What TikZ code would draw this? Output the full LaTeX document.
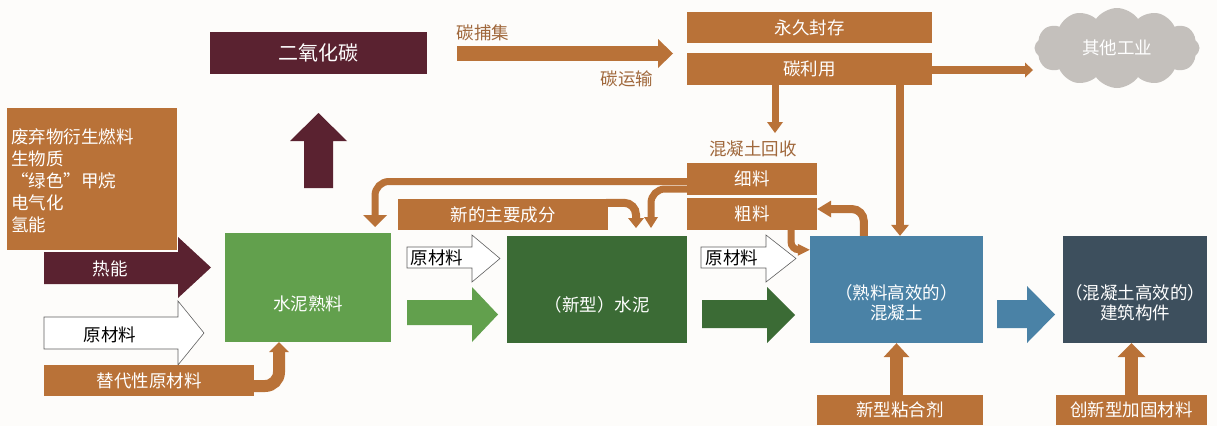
\documentclass[tikz,border=0pt]{standalone}
\usepackage{fontspec}
\newfontfamily\cjkf{Noto Sans CJK SC}
\usetikzlibrary{arrows.meta,shapes.symbols,calc}
\definecolor{orng}{RGB}{185,114,56}
\definecolor{maroonc}{RGB}{90,34,48}
\definecolor{lgreen}{RGB}{98,160,77}
\definecolor{dgreen}{RGB}{59,107,53}
\definecolor{cblue}{RGB}{74,130,166}
\definecolor{slate}{RGB}{61,79,93}
\definecolor{cloudgray}{RGB}{196,192,188}
\definecolor{lbl}{RGB}{160,104,60}
\definecolor{bgc}{RGB}{253,252,250}
\newcommand\blkright[8]{\path[#1] (#2,#4) -- (#3,#4) -- (#3,#6) -- (#8,{(#6+#7)/2}) -- (#3,#7) -- (#3,#5) -- (#2,#5) -- cycle;}
\newcommand\blkup[8]{\path[#1] (#2,#4) -- (#2,#5) -- (#6,#5) -- ({(#6+#7)/2},#8) -- (#7,#5) -- (#3,#5) -- (#3,#4) -- cycle;}
\begin{document}
\begin{tikzpicture}[x=1pt,y=-1pt,
  cj/.style={font=\cjkf\fontsize{17.5}{21}\selectfont, inner sep=0pt},
  wt/.style={cj, text=white},
  bx/.style n args={3}{wt, fill=#1, minimum width=#2, minimum height=#3},
  ob/.style={draw=orng, line width=#1, line cap=butt},
  atip/.style n args={2}{arrows={-{Triangle[width=#1,length=#2,line width=0pt]}}},
  wa/.style={fill=white, draw=gray!75!black, line width=0.6pt}]
\useasboundingbox (0,0) rectangle (1217,426);
\fill[bgc] (0,0) rectangle (1217,426);

% block arrows (shapes)
\blkright{fill=maroonc}{44}{178}{252}{284}{237}{298}{211}
\blkright{wa}{44}{178}{317}{349}{301}{365}{204}
\blkright{wa}{407}{472}{247}{268}{235}{282}{500}
\blkright{fill=lgreen}{407}{472}{300}{325}{287}{342}{498}
\blkright{wa}{701}{766}{247}{268}{235}{282}{796}
\blkright{fill=dgreen}{702}{767}{300}{328}{287}{343}{795}
\blkright{fill=cblue}{997}{1027}{300}{328}{286}{343}{1055}
\blkup{fill=maroonc}{304}{333}{188}{141}{290}{347}{113}

% nodes
\node[bx={maroonc}{217pt}{42pt}, font=\cjkf\fontsize{20}{24}\selectfont] (co2) at (318.5,53) {二氧化碳};
\node[bx={orng}{170pt}{142pt}] (fuel) at (92,179) {};
\node[wt, align=left, anchor=north west, font=\cjkf\fontsize{17.5}{22}\selectfont] (fuelT) at (11,128) {废弃物衍生燃料\\生物质\\“绿色”甲烷\\电气化\\氢能};
\node[bx={orng}{245pt}{31pt}] (perm) at (809.5,27.5) {永久封存};
\node[bx={orng}{245pt}{32pt}] (util) at (809.5,69) {碳利用};
\node[bx={orng}{210pt}{31pt}] (alt) at (149,380.5) {替代性原材料};
\node[bx={lgreen}{166pt}{109pt}] (clinker) at (308,287.5) {};
\node[wt] (clinkerT) at (308,304) {水泥熟料};
\node[bx={orng}{210pt}{31pt}] (newmain) at (503,214.5) {新的主要成分};
\node[bx={orng}{130pt}{32pt}] (fine) at (752,179) {细料};
\node[bx={orng}{130pt}{32pt}] (coarse) at (752,214) {粗料};
\node[bx={dgreen}{180pt}{107pt}] (cement) at (597,289.5) {};
\node[wt] (cementT) at (597,305) {（新型）水泥};
\node[bx={cblue}{173pt}{107pt}] (concrete) at (896.5,289.5) {};
\node[wt, align=center, font=\cjkf\fontsize{17.5}{20}\selectfont] (concreteT) at (896.5,303) {（熟料高效的）\\混凝土};
\node[bx={slate}{144pt}{107pt}] (building) at (1135,289.5) {};
\node[wt, align=center, font=\cjkf\fontsize{17.5}{20}\selectfont] (buildingT) at (1135,303) {（混凝土高效的）\\建筑构件};
\node[bx={orng}{166pt}{30pt}] (binder) at (900,410) {新型粘合剂};
\node[bx={orng}{151pt}{30pt}] (reinf) at (1131.5,410) {创新型加固材料};
\node[cloud, cloud puffs=12, cloud puff arc=110, aspect=2.1, fill=cloudgray, minimum width=165pt, minimum height=80pt, inner sep=0pt, text=white, font=\cjkf\fontsize{17.5}{21}\selectfont] (cloud) at (1117,48) {其他工业};

% texts on arrows and labels
\node[wt] (heatT) at (110,269) {热能};
\node[cj] (raw1T) at (110,335) {原材料};
\node[cj] (raw2T) at (437,258) {原材料};
\node[cj] (raw3T) at (732,258) {原材料};
\node[cj, text=lbl] (capL) at (483,33) {碳捕集};
\node[cj, text=lbl] (trL) at (627,79) {碳运输};
\node[cj, text=lbl] (recL) at (753,149) {混凝土回收};

% coordinates for free ends
\coordinate (capS) at (457,53.5);
\coordinate (capE) at (673,53.5);
\coordinate (tipA) at (375,227);
\coordinate (tipB) at (651,228);
\coordinate (tipC) at (636,228);
\coordinate (tipD) at (775,133);
\coordinate (tipE) at (1033,70);
\coordinate (cn) at ($(concrete.north)+(3.5,0)$);

% connectors
\draw[ob=15pt, atip={29pt}{15pt}] (capS) -- (capE);
\draw[ob=8pt, atip={15pt}{8pt}] (util.east |- tipE) -- (tipE);
\draw[ob=7pt, atip={16pt}{11pt}] (tipD |- util.south) -- (tipD);
\draw[ob=8pt, atip={18pt}{11pt}] (cn |- util.south) -- (cn);
\draw[ob=7pt, atip={24pt}{12pt}, rounded corners=14pt] ($(fine.west)+(0,2.5)$) -| (tipA);
\draw[ob=7pt, atip={14pt}{11pt}, rounded corners=14pt] ($(fine.west)+(0,10)$) -| (tipB);
\draw[ob=8pt, atip={16pt}{10pt}, rounded corners=12pt] ($(newmain.north east)+(-2,4)$) -| (tipC);
\draw[ob=7pt, atip={12pt}{12pt}, rounded corners=8pt] ($(coarse.south)+(39,0)$) |- ($(concrete.north west)+(0,14)$);
\draw[ob=8pt, atip={17pt}{14pt}, rounded corners=12pt] ($(concrete.north west)+(54,0)$) |- ($(coarse.east)+(0,-5)$);
\draw[ob=12pt, atip={20pt}{10pt}, rounded corners=14pt] ($(alt.east)+(-2,5.5)$) -| ($(clinker.south)+(-29,0)$);
\draw[ob=13pt, atip={26pt}{14pt}] (binder.north -| concrete.south) -- (concrete.south);
\draw[ob=13pt, atip={28pt}{14pt}] (reinf.north) -- (reinf.north |- building.south);
\end{tikzpicture}
\end{document}
